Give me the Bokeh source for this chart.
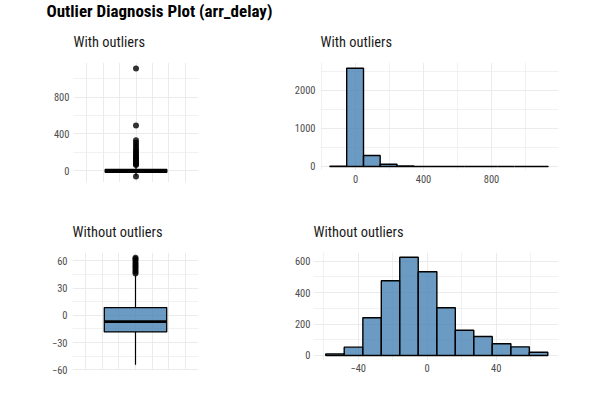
from bokeh.plotting import figure
from bokeh.models import FixedTicker, Grid, Range1d, ColumnDataSource, Title
from bokeh.layouts import column, row
from bokeh.embed import file_html
from bokeh.resources import INLINE

# ---------------- data ----------------
main_title = "Outlier Diagnosis Plot (arr_delay)"
title_tl = "With outliers"
title_tr = "With outliers"
title_bl = "Without outliers"
title_br = "Without outliers"

# boxplot, with outliers
box_all_q1 = -17
box_all_median = -5
box_all_q3 = 14
box_all_whisker_low = -55
box_all_whisker_high = 58
box_all_outliers = [-64, 62, 70, 80, 92, 105, 118, 131, 145, 160, 176, 193,
                    212, 232, 255, 280, 305, 332, 491, 1112]

# histogram, with outliers
hist_all_edges = [-151, -52, 47, 145, 244, 343, 442, 541, 639, 738, 837, 936, 1035, 1133]
hist_all_counts = [6, 2573, 288, 58, 14, 0, 1, 0, 0, 0, 0, 0, 1]

# boxplot, without outliers
box_clean_q1 = -18.3
box_clean_median = -6.9
box_clean_q3 = 8.5
box_clean_whisker_low = -54.5
box_clean_whisker_high = 44
box_clean_outliers = [46, 48, 50, 52, 54, 56, 58, 60, 62, 63.5]

# histogram, without outliers
hist_clean_edges = [-58.8, -48.1, -37.3, -26.6, -15.9, -5.2, 5.6, 16.3, 27.0, 37.7, 48.5, 59.2, 69.9]
hist_clean_counts = [10, 53, 240, 476, 626, 533, 304, 161, 121, 75, 55, 21]

# ticks
box_all_yticks = [0, 400, 800]
box_all_yminor = [200, 600, 1000]
hist_all_xticks = [0, 400, 800]
hist_all_xminor = [-200, 200, 600, 1000]
hist_all_yticks = [0, 1000, 2000]
hist_all_yminor = [500, 1500, 2500]
box_clean_yticks = [-60, -30, 0, 30, 60]
box_clean_yminor = [-45, -15, 15, 45]
hist_clean_xticks = [-40, 0, 40]
hist_clean_xminor = [-60, -20, 20, 60]
hist_clean_yticks = [0, 200, 400, 600]
hist_clean_yminor = [100, 300, 500]
box_xgrid = [-0.6, -0.4, -0.2, 0, 0.2, 0.4, 0.6]

# ---------------- style ----------------
FONT = "'Roboto Condensed', 'DejaVu Sans Condensed', 'Liberation Sans Narrow', Roboto, sans-serif"
GRID = "#EBEBEB"
TICK_COLOR = "#4D4D4D"
FILL = "steelblue"
BOX_CENTER = 0.0
BOX_HALF = 0.375


def style_subtitle(t):
    t.align = "left"
    t.text_font = FONT
    t.text_font_size = "14.4px"
    t.text_font_style = "normal"
    t.text_color = "#1A1A1A"
    t.standoff = 24


def make_fig(w, h, xr, yr, bl, br, bt, bb, has_xaxis, title, main=None):
    p = figure(width=w, height=h, x_range=Range1d(*xr), y_range=Range1d(*yr),
               min_border_left=bl, min_border_right=br, min_border_top=bt,
               min_border_bottom=bb, output_backend="svg", toolbar_location=None,
               x_axis_type="linear" if has_xaxis else None)
    try:
        p.frame_align = False
    except Exception:
        pass
    p.outline_line_color = None
    p.background_fill_color = "white"
    p.border_fill_color = None
    if main is None:
        p.title.text = title
        style_subtitle(p.title)
    else:
        # subtitle sits next to the frame, the main title above it
        sub = Title(text=title)
        style_subtitle(sub)
        p.add_layout(sub, "above")
        p.title.text = main
        p.title.align = "left"
        p.title.offset = 46 - bl
        p.title.text_font = FONT
        p.title.text_font_size = "17px"
        p.title.text_font_style = "bold"
        p.title.text_color = "black"
        try:
            p.title.standoff = -3
        except Exception:
            p.title.standoff = 0
    return p


def style_axis(axis, grid, ticks, minor, standoff):
    t = FixedTicker(ticks=ticks, minor_ticks=minor)
    axis.ticker = t
    axis.axis_line_color = None
    axis.major_tick_line_color = None
    axis.minor_tick_line_color = None
    axis.major_tick_out = 0
    axis.major_tick_in = 0
    axis.minor_tick_out = 0
    axis.minor_tick_in = 0
    axis.major_label_text_font = FONT
    axis.major_label_text_font_size = "10.5px"
    axis.major_label_text_color = TICK_COLOR
    axis.major_label_standoff = standoff
    grid.ticker = t
    grid.grid_line_color = GRID
    grid.grid_line_width = 1
    grid.minor_grid_line_color = GRID
    grid.minor_grid_line_width = 0.7


def boxplot(p, q1, med, q3, wlo, whi, outliers):
    src = ColumnDataSource(dict(left=[BOX_CENTER - BOX_HALF], right=[BOX_CENTER + BOX_HALF],
                                bottom=[q1], top=[q3]))
    p.segment(x0=[BOX_CENTER, BOX_CENTER], x1=[BOX_CENTER, BOX_CENTER],
              y0=[q3, q1], y1=[whi, wlo], line_color="black", line_width=1.2)
    p.quad(left="left", right="right", bottom="bottom", top="top", source=src,
           fill_color=FILL, fill_alpha=0.8, line_color="black", line_width=1.3)
    p.segment(x0=[BOX_CENTER - BOX_HALF], x1=[BOX_CENTER + BOX_HALF], y0=[med], y1=[med],
              line_color="black", line_width=2.6)
    p.scatter(x=[BOX_CENTER] * len(outliers), y=outliers, size=6,
              fill_color="black", fill_alpha=0.8, line_color=None)
    g = Grid(dimension=0, ticker=FixedTicker(ticks=box_xgrid), grid_line_color=GRID,
             grid_line_width=1)
    p.add_layout(g)


def histogram(p, edges, counts):
    src = ColumnDataSource(dict(left=edges[:-1], right=edges[1:],
                                top=counts, bottom=[0] * len(counts)))
    p.quad(left="left", right="right", bottom="bottom", top="top", source=src,
           fill_color=FILL, fill_alpha=0.8, line_color="black", line_width=1.4)


# top-left: boxplot with outliers (also carries the main title)
tl = make_fig(280, 205, (-0.76, 0.76), (-128, 1178), 73, 82, 62, 23, False, title_tl,
              main=main_title)
style_axis(tl.yaxis[0], tl.ygrid[0], box_all_yticks, box_all_yminor, 4)
boxplot(tl, box_all_q1, box_all_median, box_all_q3, box_all_whisker_low,
        box_all_whisker_high, box_all_outliers)

# top-right: histogram with outliers
tr = make_fig(320, 205, (-206, 1194), (-105, 2723), 40, 42, 62, 35, True, title_tr)
style_axis(tr.yaxis[0], tr.ygrid[0], hist_all_yticks, hist_all_yminor, 5)
style_axis(tr.xaxis[0], tr.xgrid[0], hist_all_xticks, hist_all_xminor, 4)
histogram(tr, hist_all_edges, hist_all_counts)

# bottom-left: boxplot without outliers
bl = make_fig(280, 195, (-0.757, 0.757), (-60.8, 69.2), 72, 82, 47, 30, False, title_bl)
style_axis(bl.yaxis[0], bl.ygrid[0], box_clean_yticks, box_clean_yminor, 5)
boxplot(bl, box_clean_q1, box_clean_median, box_clean_q3, box_clean_whisker_low,
        box_clean_whisker_high, box_clean_outliers)

# bottom-right: histogram without outliers
br = make_fig(320, 195, (-65.9, 76.1), (-32, 656), 33, 42, 47, 40, True, title_br)
style_axis(br.yaxis[0], br.ygrid[0], hist_clean_yticks, hist_clean_yminor, 3)
style_axis(br.xaxis[0], br.xgrid[0], hist_clean_xticks, hist_clean_xminor, 3)
histogram(br, hist_clean_edges, hist_clean_counts)

layout = row(column(tl, bl), column(tr, br))
open("out.html", "w").write(file_html(layout, INLINE))
